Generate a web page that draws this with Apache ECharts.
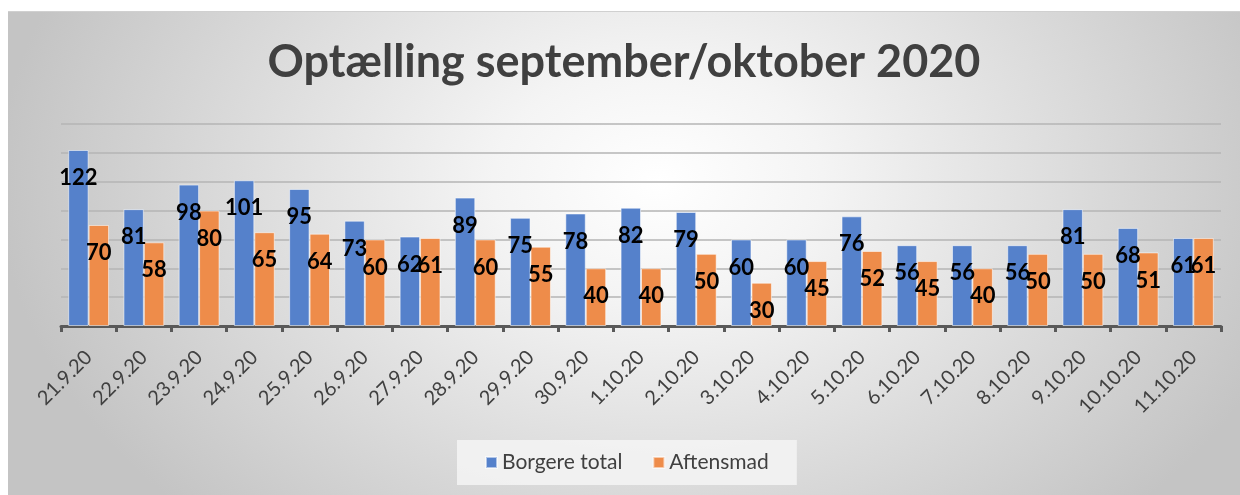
<!DOCTYPE html>
<html>
<head>
<meta charset="utf-8">
<title>Optælling september/oktober 2020</title>
<script src="https://cdn.jsdelivr.net/npm/echarts@6/dist/echarts.min.js"></script>
<style>
    html, body { margin: 0; padding: 0; background: #ffffff; }
    .chart_box {
        position: absolute;
        left: 8px;
        top: 11px;
        width: 1232px;
        height: 484px;
        border-top: 1px solid #d0d0d0;
        background: radial-gradient(ellipse 660px 470px at 650px 170px, #ffffff 0%, #f4f4f4 25%, #c4c4c4 100%);
    }
</style>
</head>
<body>
<div class="chart_box"></div>
<script>
// data
var dates = ['21.9.20','22.9.20','23.9.20','24.9.20','25.9.20','26.9.20','27.9.20','28.9.20','29.9.20','30.9.20',
             '1.10.20','2.10.20','3.10.20','4.10.20','5.10.20','6.10.20','7.10.20','8.10.20','9.10.20','10.10.20','11.10.20'];
var borgereTotal = [122, 81, 98, 101, 95, 73, 62, 89, 75, 78, 82, 79, 60, 60, 76, 56, 56, 56, 81, 68, 61];
var aftensmad = [70, 58, 80, 65, 64, 60, 61, 60, 55, 40, 40, 50, 30, 45, 52, 45, 40, 50, 50, 51, 61];

window.onload = function(){
    setChart();
}

function setChart(){
    let dom_chart = document.getElementsByClassName("chart_box")[0];
    var myChart = echarts.init(dom_chart);
    var barLabel = {
        show: true,
        position: ['50%', 28],
        align: 'center',
        verticalAlign: 'middle',
        color: '#000000',
        fontFamily: 'Lato',
        fontWeight: 'bold',
        fontSize: 22
    };
    var option = {
        backgroundColor: 'transparent',
        animation: false,
        textStyle: {
            fontFamily: 'Lato'
        },
        title: {
            text: 'Optælling september/oktober 2020',
            left: 'center',
            top: 23,
            textStyle: {
                fontFamily: 'Lato',
                fontWeight: 'bold',
                fontSize: 45,
                color: '#404040'
            }
        },
        legend: {
            data: ['Borgere total', 'Aftensmad'],
            left: 449,
            top: 428,
            padding: [12, 28],
            backgroundColor: 'rgba(245,245,245,0.85)',
            itemWidth: 11,
            itemHeight: 11,
            itemGap: 30,
            icon: 'rect',
            textStyle: {
                fontSize: 21,
                color: '#404040'
            }
        },
        grid: {
            left: 53,
            right: 19,
            top: 112,
            bottom: 170
        },
        xAxis: {
            type: 'category',
            data: dates,
            axisLine: {
                lineStyle: { color: '#595959', width: 3 }
            },
            axisTick: {
                show: true,
                length: 6,
                lineStyle: { color: '#595959', width: 3 }
            },
            axisLabel: {
                interval: 0,
                rotate: 45,
                margin: 28,
                fontSize: 20,
                color: '#404040'
            }
        },
        yAxis: {
            type: 'value',
            min: 0,
            max: 140,
            interval: 20,
            axisLine: { show: false },
            axisTick: { show: false },
            axisLabel: { show: false },
            splitLine: {
                lineStyle: { color: '#b4b4b4', width: 1.5 }
            }
        },
        series: [
            {
                name: 'Borgere total',
                type: 'bar',
                data: borgereTotal,
                barGap: '0%',
                barCategoryGap: '26%',
                itemStyle: { color: '#5581cb', borderColor: 'rgba(255,255,255,0.55)', borderWidth: 1 },
                label: barLabel
            },
            {
                name: 'Aftensmad',
                type: 'bar',
                data: aftensmad,
                itemStyle: { color: '#ee8c4a', borderColor: 'rgba(255,255,255,0.55)', borderWidth: 1 },
                label: barLabel
            }
        ]
    };
    myChart.setOption(option);
}
</script>
</body>
</html>
